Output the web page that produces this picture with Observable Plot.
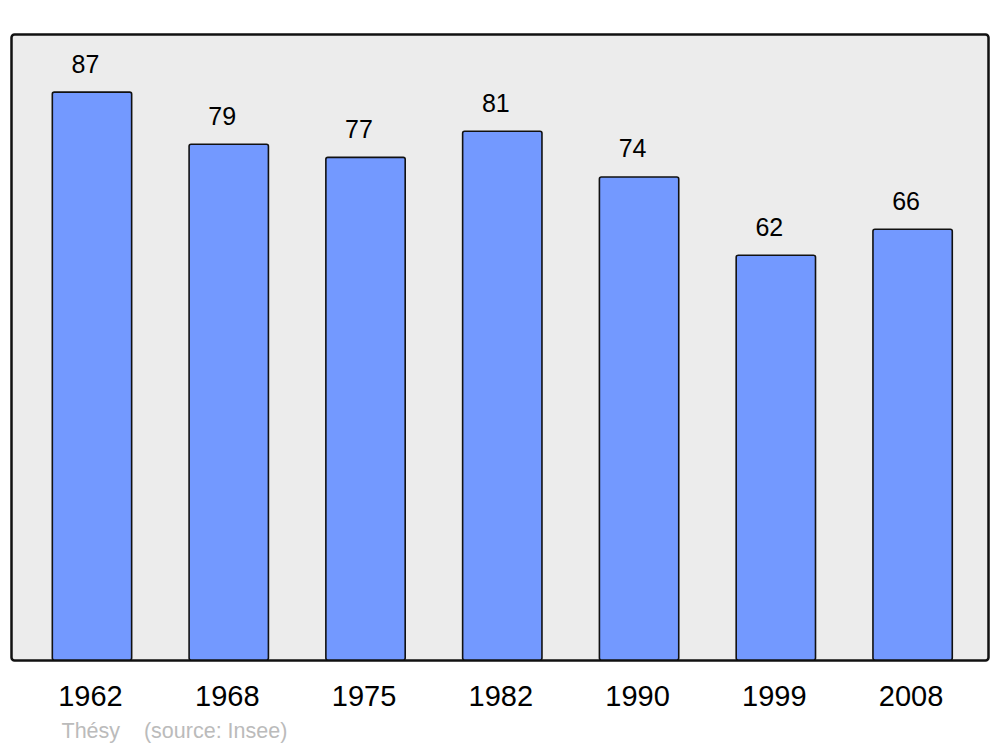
<!DOCTYPE html>
<html>
<head>
<meta charset="utf-8">
<script src="https://cdn.jsdelivr.net/npm/d3@7"></script>
<script src="https://cdn.jsdelivr.net/npm/@observablehq/plot@0.6"></script>
<style>
  html, body { margin: 0; padding: 0; background: #fff; }
  #chart svg { display: block; }
</style>
</head>
<body>
<div id="chart"></div>
<script>
const years = ["1962", "1968", "1975", "1982", "1990", "1999", "2008"];
const population = [87, 79, 77, 81, 74, 62, 66];
const captionText = "Thésy    (source: Insee)";

const data = years.map((y, i) => ({year: y, value: population[i]}));

const chart = Plot.plot({
  width: 1000,
  height: 747,
  marginLeft: 11,
  marginRight: 12,
  marginTop: 34,
  marginBottom: 87,
  style: {fontFamily: "'Liberation Sans', Arial, sans-serif", background: "#fff"},
  x: {domain: years, range: [23.6, 981], paddingInner: 0.42, paddingOuter: 0.21, round: false, label: null},
  y: {domain: [0, 95.9], axis: null},
  marks: [
    Plot.frame({fill: "#ececec", stroke: "#111", strokeWidth: 2.5, rx: 3}),
    Plot.barY(data, {x: "year", y: "value", fill: "#7399ff", stroke: "#111", strokeWidth: 1.6, rx: 2}),
    Plot.text(data, {x: "year", y: "value", text: d => String(d.value), dy: -28, dx: -7, fontSize: 25, fill: "#000"}),
    Plot.axisX({tickSize: 0, tickPadding: 25, fontSize: 29, color: "#000", label: null, dx: -2}),
    Plot.text([captionText], {frameAnchor: "bottom-left", text: d => d, dx: 50, dy: 77, fontSize: 21.5, fill: "#bbbbbb", textAnchor: "start", style: "white-space: pre"})
  ]
});
document.getElementById("chart").appendChild(chart);
</script>
</body>
</html>
